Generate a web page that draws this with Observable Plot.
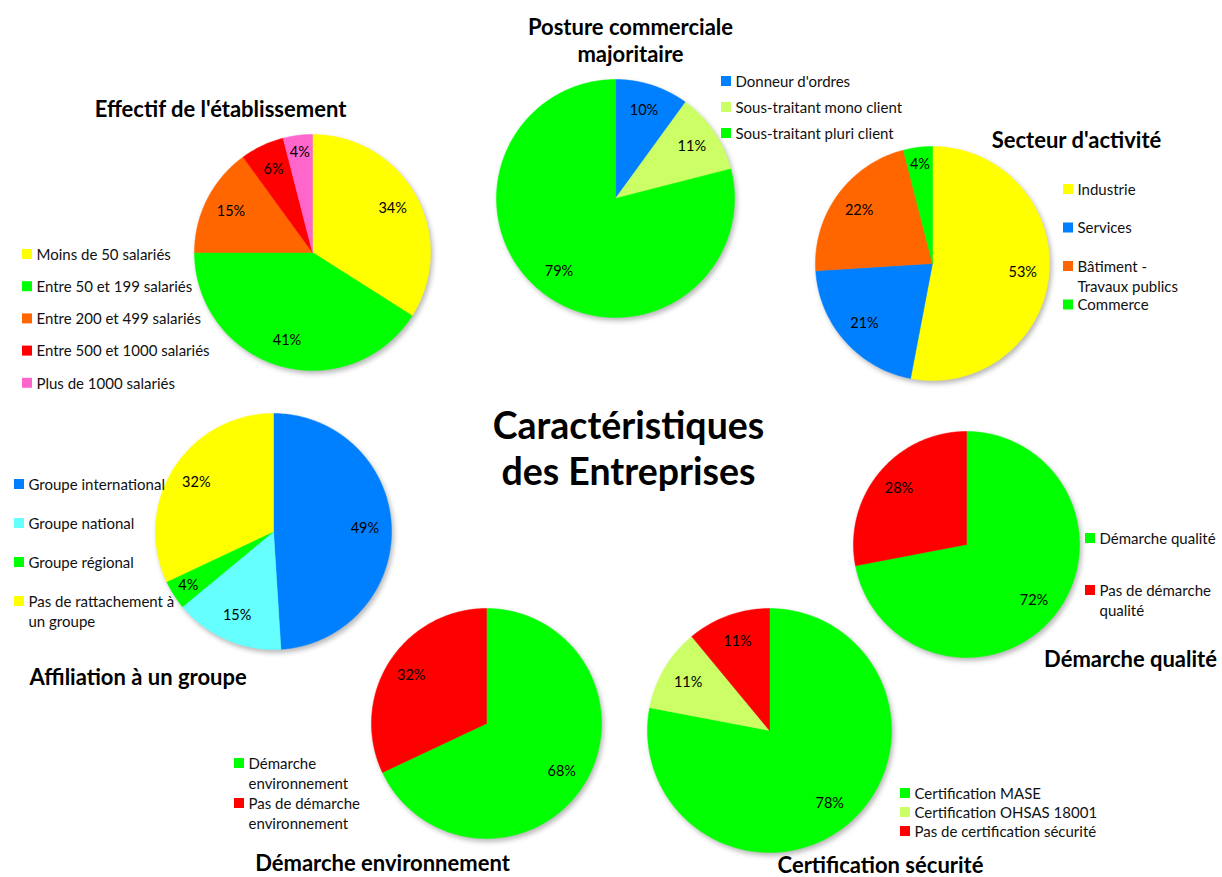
<!DOCTYPE html>
<html><head><meta charset="utf-8">
<script src="https://cdn.jsdelivr.net/npm/d3@7"></script>
<script src="https://cdn.jsdelivr.net/npm/@observablehq/plot@0.6"></script>
<style>
html,body{margin:0;padding:0;background:#fff;}
#chart svg g[aria-label="line"]{filter: drop-shadow(2px 3px 2.5px rgba(0,0,0,0.28));}
</style></head><body><div id="chart"></div>
<script>
// ---------- DATA ----------
const effectifLabels = ["Moins de 50 salariés", "Entre 50 et 199 salariés", "Entre 200 et 499 salariés", "Entre 500 et 1000 salariés", "Plus de 1000 salariés"];
const effectifValues = [34, 41, 15, 6, 4];

const postureLabels = ["Donneur d'ordres", "Sous-traitant mono client", "Sous-traitant pluri client"];
const postureValues = [10, 11, 79];

const secteurLabels = ["Industrie", "Services", "Bâtiment -\nTravaux publics", "Commerce"];
const secteurValues = [53, 21, 22, 4];

const affiliationLabels = ["Groupe international", "Groupe national", "Groupe régional", "Pas de rattachement à\nun groupe"];
const affiliationValues = [49, 15, 4, 32];

const qualiteLabels = ["Démarche qualité", "Pas de démarche\nqualité"];
const qualiteValues = [72, 28];

const environnementLabels = ["Démarche\nenvironnement", "Pas de démarche\nenvironnement"];
const environnementValues = [68, 32];

const securiteLabels = ["Certification MASE", "Certification OHSAS 18001", "Pas de certification sécurité"];
const securiteValues = [78, 11, 11];

const chartTitles = {
  effectif: "Effectif de l'établissement",
  posture: "Posture commerciale\nmajoritaire",
  secteur: "Secteur d'activité",
  affiliation: "Affiliation à un groupe",
  qualite: "Démarche qualité",
  environnement: "Démarche environnement",
  securite: "Certification sécurité"
};
const mainTitle = "Caractéristiques\ndes Entreprises";

// ---------- STYLE ----------
const YELLOW = "#ffff00", GREEN = "#00ff00", ORANGE = "#ff6600", RED = "#ff0000",
      PINK = "#ff66cc", BLUE = "#0080ff", LIGHTGREEN = "#ccff66", CYAN = "#66ffff";
const palettes = {
  effectif: [YELLOW, GREEN, ORANGE, RED, PINK],
  posture: [BLUE, LIGHTGREEN, GREEN],
  secteur: [YELLOW, BLUE, ORANGE, GREEN],
  affiliation: [BLUE, CYAN, GREEN, YELLOW],
  qualite: [GREEN, RED],
  environnement: [GREEN, RED],
  securite: [GREEN, LIGHTGREEN, RED]
};

// ---------- LAYOUT ----------
const layout = {
  effectif:      {cx: 312, cy: 252, r: 118, tx: 220,  ty: 108,  ta: "middle", lx: 22,   ly: 254, step: 32.2},
  posture:       {cx: 615, cy: 198, r: 119, tx: 630,  ty: 39.5, ta: "middle", lx: 721,  ly: 81,  step: 26},
  secteur:       {cx: 932, cy: 263, r: 117, tx: 1076, ty: 139,  ta: "middle", lx: 1063, ly: 189, step: 38.5},
  affiliation:   {cx: 273, cy: 531, r: 118, tx: 29,   ty: 677,  ta: "start",  lx: 14,   ly: 484, step: 39},
  qualite:       {cx: 966, cy: 544, r: 113, tx: 1130, ty: 658,  ta: "middle", lx: 1085, ly: 538, step: 52},
  environnement: {cx: 486, cy: 723, r: 115, tx: 382,  ty: 862,  ta: "middle", lx: 234,  ly: 763, step: 40},
  securite:      {cx: 769, cy: 730, r: 122, tx: 880,  ty: 864,  ta: "middle", lx: 900,  ly: 793, step: 19}
};

const charts = [
  {id: "effectif", labels: effectifLabels, values: effectifValues},
  {id: "posture", labels: postureLabels, values: postureValues},
  {id: "secteur", labels: secteurLabels, values: secteurValues},
  {id: "affiliation", labels: affiliationLabels, values: affiliationValues},
  {id: "qualite", labels: qualiteLabels, values: qualiteValues},
  {id: "environnement", labels: environnementLabels, values: environnementValues},
  {id: "securite", labels: securiteLabels, values: securiteValues}
];

const LEG_FS = 15, SQ = 10;

// ---------- BUILD TABLES ----------
const slicePts = [], pctLabels = [], legendRows = [], titles = [];
const pie = d3.pie().sort(null).value(d => d);
for (const c of charts) {
  const L = layout[c.id], cols = palettes[c.id];
  const total = d3.sum(c.values);
  pie(c.values).forEach((a, i) => {
    const key = c.id + i, color = cols[i];
    slicePts.push({key, color, x: L.cx, y: L.cy});
    const n = Math.max(2, Math.ceil((a.endAngle - a.startAngle) / 0.02));
    for (let k = 0; k <= n; k++) {
      const t = a.startAngle + (a.endAngle - a.startAngle) * k / n;
      slicePts.push({key, color, x: L.cx + L.r * Math.sin(t), y: L.cy - L.r * Math.cos(t)});
    }
    slicePts.push({key, color, x: L.cx, y: L.cy});
    const mid = (a.startAngle + a.endAngle) / 2;
    const share = c.values[i] / total;
    const f = share < 0.06 ? 0.855 : 0.775;
    pctLabels.push({x: L.cx + f * L.r * Math.sin(mid), y: L.cy - f * L.r * Math.cos(mid), text: Math.round(share * 100) + "%"});
    const rowY = L.ly + i * L.step;
    legendRows.push({x1: L.lx, x2: L.lx + SQ, y1: rowY - SQ / 2, y2: rowY + SQ / 2, color,
                     tx: L.lx + SQ + 4, ty: rowY - 0.6 * LEG_FS, label: c.labels[i]});
  });
  titles.push({x: L.tx, y: L.ty, text: chartTitles[c.id], anchor: L.ta});
}

const plot = Plot.plot({
  width: 1222, height: 877, margin: 0,
  x: {domain: [0, 1222], range: [0, 1222], axis: null},
  y: {domain: [0, 877], range: [0, 877], axis: null},
  color: {type: "identity"},
  style: {fontFamily: "Lato, 'Open Sans', sans-serif", background: "#fff", overflow: "visible"},
  marks: [
    Plot.line(slicePts, {x: "x", y: "y", z: "key", fill: "color", stroke: "color", strokeWidth: 0.5, curve: "linear"}),
    Plot.text(pctLabels, {x: "x", y: "y", text: "text", fontSize: 14.5, fill: "#000"}),
    Plot.rect(legendRows, {x1: "x1", x2: "x2", y1: "y1", y2: "y2", fill: "color"}),
    Plot.text(legendRows, {x: "tx", y: "ty", text: "label", textAnchor: "start", lineAnchor: "top", lineHeight: 1.34, fontSize: LEG_FS, fill: "#111"}),
    Plot.text(titles.filter(t => t.anchor === "middle"), {x: "x", y: "y", text: "text", fontSize: 22, fontWeight: "bold", lineHeight: 1.23, fill: "#000"}),
    Plot.text(titles.filter(t => t.anchor === "start"), {x: "x", y: "y", text: "text", textAnchor: "start", fontSize: 22, fontWeight: "bold", fill: "#000"}),
    Plot.text([mainTitle], {x: () => 628, y: () => 447, text: d => d, fontSize: 37.5, fontWeight: "bold", lineHeight: 1.23, fill: "#000"})
  ]
});
document.getElementById("chart").appendChild(plot);
</script>
</body></html>
